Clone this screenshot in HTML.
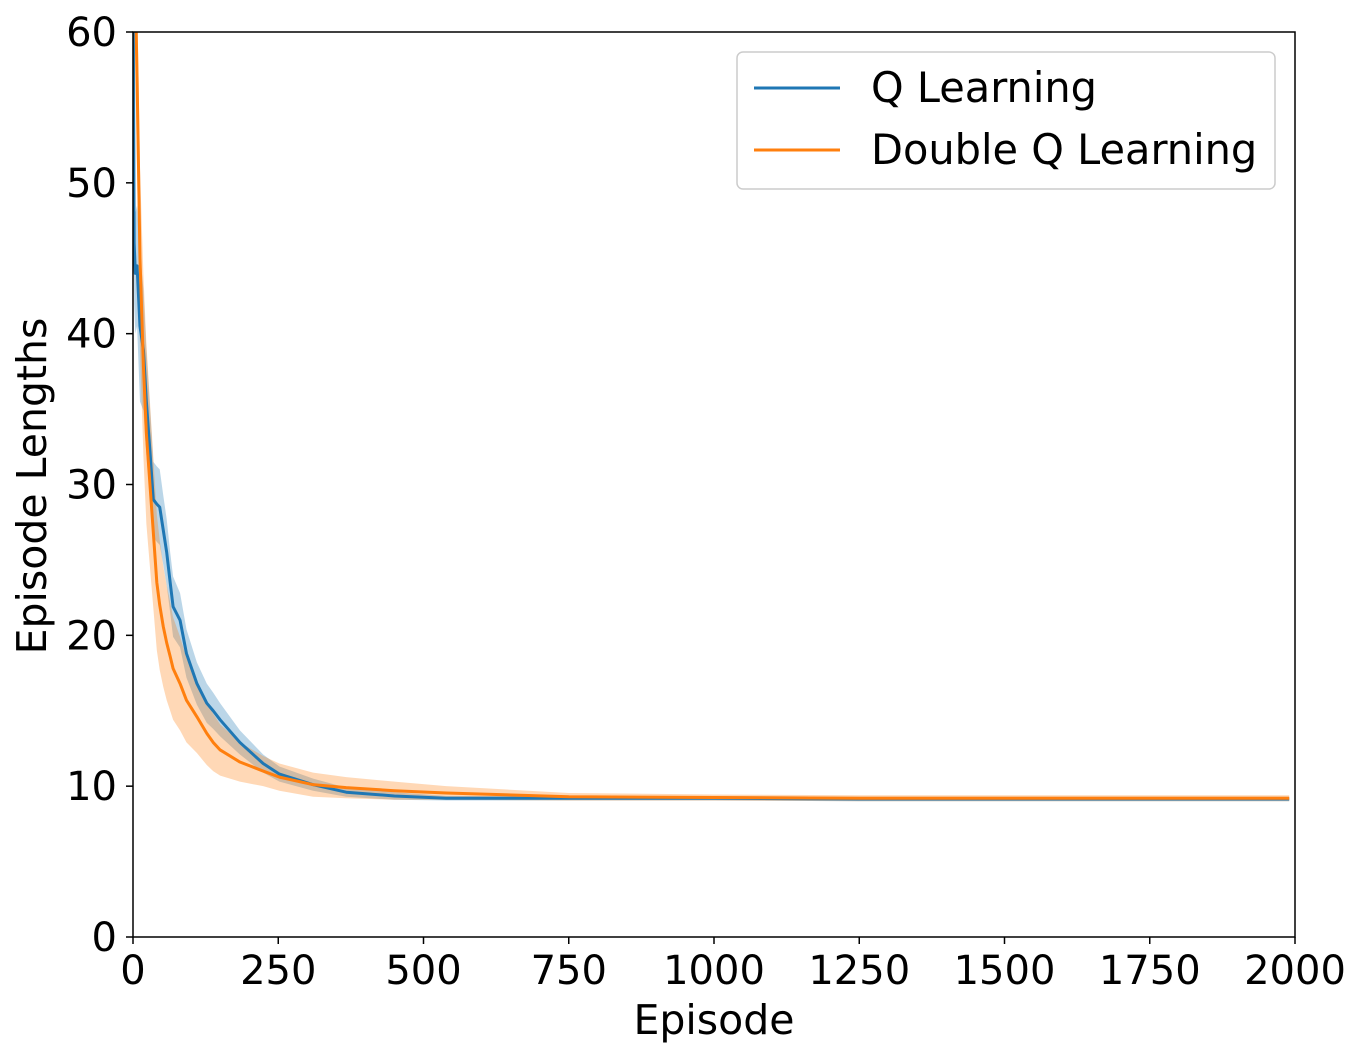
<!DOCTYPE html>
<html><head><meta charset="utf-8"><style>
body{margin:0;background:#fff;}
svg{display:block;font-family:"DejaVu Sans","Liberation Sans",sans-serif;}
</style></head><body>
<svg id="chart" width="1363" height="1059">
<defs><clipPath id="clip"><rect x="133" y="32" width="1162" height="905"/></clipPath></defs>
<g id="plot" clip-path="url(#clip)"></g>
<rect x="133" y="32" width="1162" height="905" fill="none" stroke="#000" stroke-width="1.5"/>
<g id="xticks"></g>
<g id="yticks"></g>
<text x="714" y="1034" font-size="41" text-anchor="middle">Episode</text>
<text x="0" y="0" font-size="41" text-anchor="middle" transform="translate(46,486) rotate(-90)">Episode Lengths</text>
<g>
<rect x="737" y="52" width="538" height="137" rx="6" fill="#fff" stroke="#ccc" stroke-width="1.5"/>
<line x1="754" y1="88" x2="840" y2="88" stroke="#1f77b4" stroke-width="3"/>
<text x="871" y="102" font-size="41.5">Q Learning</text>
<line x1="754" y1="150" x2="840" y2="150" stroke="#ff7f0e" stroke-width="3"/>
<text x="871" y="164" font-size="41.5">Double Q Learning</text>
</g>
</svg>
<script>
const episodes = [0,2,4,7,12,18,23,29,35,41,46,52,58,64,69,81,92,110,127,138,150,184,224,252,310,367,450,539,750,1000,1250,1500,1750,1990];
const qMean = [66,46,44,44.5,40.5,38.9,35.5,32.3,29,28.7,28.5,27,25.5,23.5,21.9,21,18.8,16.8,15.5,15,14.4,12.9,11.5,10.8,10.1,9.6,9.35,9.2,9.2,9.2,9.15,9.15,9.15,9.15];
const qLow  = [60,42,40,40.5,35.5,34.9,32,29.3,26.5,26.2,26,24.7,23.3,21.5,19.9,19.2,17.2,15.4,14.2,13.8,13.3,12.1,10.9,10.3,9.7,9.3,9.1,9.05,9.05,9.05,9.0,9.0,9.0,9.0];
const qHigh = [72,50,48,48.5,45.5,42.9,39,35.3,31.5,31.2,31,29.3,27.7,25.5,23.9,22.8,20.4,18.2,16.8,16.2,15.5,13.7,12.1,11.3,10.5,9.9,9.6,9.35,9.35,9.35,9.3,9.3,9.3,9.3];
const dMean = [78,70,63,57,45,37.8,33.4,30.1,26.8,23.5,22,20.6,19.5,18.6,17.8,16.8,15.7,14.6,13.5,12.9,12.4,11.6,11,10.6,10.1,9.9,9.7,9.55,9.3,9.25,9.2,9.2,9.2,9.2];
const dLow  = [72,64,57,51,39,31.8,27.4,24.6,21.8,19,17.7,16.6,15.7,15,14.4,13.7,12.9,12.2,11.4,11,10.7,10.3,10,9.7,9.3,9.2,9.1,9.1,9.05,9.05,9.0,9.0,9.0,9.0];
const dHigh = [84,76,69,63,51,43.8,39.4,35.6,31.8,28,26.3,24.6,23.3,22.2,21.2,19.9,18.5,17,15.6,14.8,14.1,12.9,12,11.5,10.9,10.6,10.3,10,9.55,9.45,9.4,9.4,9.4,9.4];
const xTicks = [0,250,500,750,1000,1250,1500,1750,2000];
const yTicks = [0,10,20,30,40,50,60];

const X = v => 133 + v/2000*1162;
const Y = v => 937 - v/60*905;
const NS = 'http://www.w3.org/2000/svg';
const plot = document.getElementById('plot');
function mk(tag, attrs, parent){const e=document.createElementNS(NS,tag);for(const k in attrs)e.setAttribute(k,attrs[k]);parent.appendChild(e);return e;}
function band(lo,hi,color,name){
  let d='M'+episodes.map((e,i)=>X(e)+','+Y(hi[i])).join('L');
  for(let i=episodes.length-1;i>=0;i--) d+='L'+X(episodes[i])+','+Y(lo[i]);
  const p=mk('path',{d:d+'Z',fill:color,'fill-opacity':0.3,stroke:'none'},plot);
  
  
}
function line(m,color,name){
  const p=mk('path',{d:'M'+episodes.map((e,i)=>X(e)+','+Y(m[i])).join('L'),fill:'none',stroke:color,'stroke-width':3,'stroke-linejoin':'round'},plot);
  
  
}
band(qLow,qHigh,'#1f77b4','q-learning-band');
band(dLow,dHigh,'#ff7f0e','double-q-band');
line(qMean,'#1f77b4','q-learning-line');
line(dMean,'#ff7f0e','double-q-line');
const xg=document.getElementById('xticks');
xTicks.forEach(t=>{
  const l=mk('line',{x1:X(t),x2:X(t),y1:937,y2:944,stroke:'#000','stroke-width':1.5},xg);
  
  
  const tx=mk('text',{x:X(t),y:984,'font-size':40,'text-anchor':'middle'},xg);tx.textContent=t;
  
  
});
const yg=document.getElementById('yticks');
yTicks.forEach(t=>{
  const l=mk('line',{x1:126,x2:133,y1:Y(t),y2:Y(t),stroke:'#000','stroke-width':1.5},yg);
  
  
  const tx=mk('text',{x:117,y:Y(t)+14,'font-size':40,'text-anchor':'end'},yg);tx.textContent=t;
  
  
});
</script>
</body></html>
